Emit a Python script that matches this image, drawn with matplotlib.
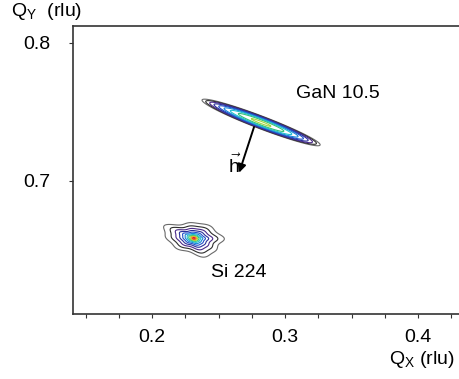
import numpy as np
from matplotlib import pyplot as plt

# peak positions / shapes (rlu)
peak_names = ["GaN 10.5", "Si 224"]
peak_qx = [0.2820, 0.2315]
peak_qy = [0.7424, 0.6585]
peak_amp = [300.0, 1500.0]
peak_angle = [-20.2, -10.0]  # degrees, major axis
peak_su = [0.0140, 0.0019]
peak_sv = [0.00135, 0.00098]

# Si peak: irregular outer contours (harmonic order, amplitude, phase)
si_harm_order = [3, 5, 8]
si_harm_amp = [0.10, 0.08, 0.06]
si_harm_phase = [0.4, 1.9, 0.7]

levels = [1, 2, 4, 8, 16, 32, 64, 128, 256, 512, 1024]
level_colors = ["#6a6a6a", "#2e2e2e", "#4b2a8a", "#2a2f9a", "#1f4fc8",
                "#1a86d8", "#22bfd0", "#35c27a", "#a6d840", "#f0a020",
                "#e02020"]

label_qx = [0.3398, 0.2654]
label_qy = [0.7634, 0.6337]

arrow_start = (0.2767, 0.7391)
arrow_end = (0.2655, 0.7060)

x_lim = (0.1406, 0.4308)
y_lim = (0.6036, 0.8123)

plt.rcParams["font.family"] = ["Liberation Sans", "DejaVu Sans"]
plt.rcParams["mathtext.fontset"] = "custom"
plt.rcParams["mathtext.rm"] = "Liberation Sans"
plt.rcParams["mathtext.it"] = "Liberation Sans:italic"

qx = np.linspace(x_lim[0], x_lim[1], 1000)
qy = np.linspace(y_lim[0], y_lim[1], 800)
QX, QY = np.meshgrid(qx, qy)


def rotated(i):
    a = np.deg2rad(peak_angle[i])
    dx = QX - peak_qx[i]
    dy = QY - peak_qy[i]
    u = dx * np.cos(a) + dy * np.sin(a)
    v = -dx * np.sin(a) + dy * np.cos(a)
    return u / peak_su[i], v / peak_sv[i]


# GaN: gaussian streak
u, v = rotated(0)
gan = peak_amp[0] * np.exp(-0.5 * (u**2 + v**2))

# Si: lorentzian-like with ragged tails
u, v = rotated(1)
r = np.hypot(u, v)
th = np.arctan2(v, u)
mod = sum(a * np.cos(k * th + p)
          for k, a, p in zip(si_harm_order, si_harm_amp, si_harm_phase))
r = r * (1 + mod * r / (r + 4))
si = peak_amp[1] / (1 + r**2) ** 1.5

intensity = gan + si

fig = plt.figure(figsize=(4.59, 3.79), dpi=100)
ax = fig.add_axes([73 / 459, 65 / 379, 386 / 459, 288 / 379])
ax.contour(QX, QY, intensity, levels=levels, colors=level_colors,
           linewidths=0.8)

for name, x, y in zip(peak_names, label_qx, label_qy):
    ax.text(x, y, name, ha="center", va="center", fontsize=14)

ax.annotate("", xy=arrow_end, xytext=arrow_start,
            arrowprops=dict(arrowstyle="-|>", color="black", lw=1.4,
                            mutation_scale=12, shrinkA=0, shrinkB=0))
ax.text(0.2622, 0.7115, r"$\vec{\mathrm{h}}$", ha="center", va="center",
        fontsize=14)

ax.set_xlim(*x_lim)
ax.set_ylim(*y_lim)
ax.set_xticks([0.2, 0.3, 0.4])
ax.set_xticklabels(["0.2", "0.3", "0.4"])
ax.set_xticks(np.arange(0.15, 0.43, 0.025), minor=True)
ax.set_yticks([0.7, 0.8])
ax.set_yticklabels(["0.7", "0.8"])
ax.tick_params(which="both", direction="out", length=3, width=0.8,
               color="#333333", labelsize=14)
ax.tick_params(axis="x", pad=8)
ax.tick_params(axis="y", pad=13)
ax.spines["right"].set_visible(False)
for s in ["left", "bottom", "top"]:
    ax.spines[s].set_color("#333333")
    ax.spines[s].set_linewidth(1.2)

fig.text(11 / 459, 1 - 1 / 379, r"Q$_\mathrm{Y}$  (rlu)", ha="left",
         va="top", fontsize=14)
fig.text(455 / 459, 1 - 370 / 379, r"Q$_\mathrm{X}$ (rlu)", ha="right",
         va="bottom", fontsize=14)

fig.savefig("out.png", dpi=100)
